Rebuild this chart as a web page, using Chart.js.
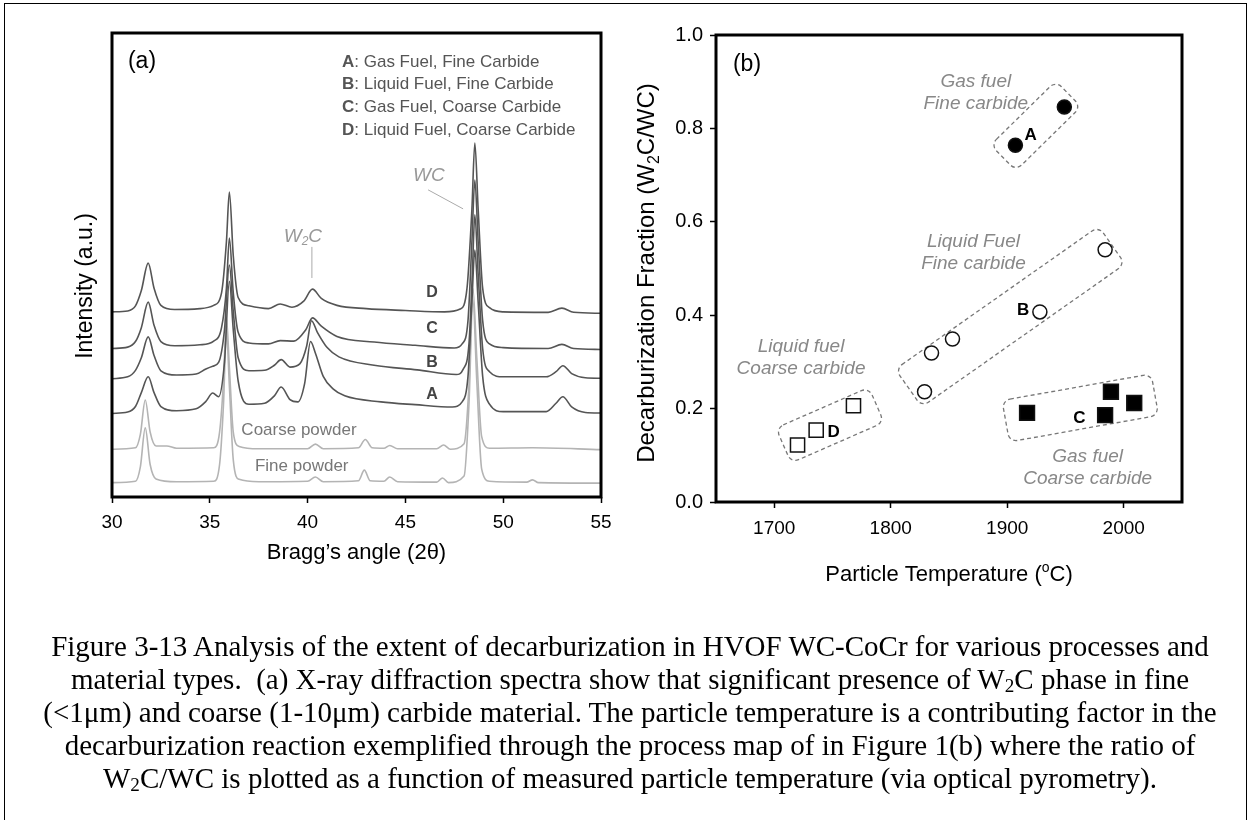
<!DOCTYPE html>
<html>
<head>
<meta charset="utf-8">
<script src="https://cdn.jsdelivr.net/npm/chart.js@4.4.1/dist/chart.umd.min.js"></script>
<style>
  html, body { margin: 0; padding: 0; background: #fff; }
  body { width: 1250px; height: 820px; position: relative; overflow: hidden; }
  #page { position: absolute; left: 4px; top: 3px; width: 1241px; height: 840px; border: 1px solid #000; }
  #wrapA { position: absolute; left: 0; top: 0; width: 640px; height: 620px; }
  #wrapB { position: absolute; left: 600px; top: 0; width: 650px; height: 640px; }
  #caption { position: absolute; left: 0; top: 630px; width: 1260px; text-align: center;
    font-family: "Liberation Serif", "Times New Roman", serif; font-size: 29px; line-height: 33px; color: #000; }
  #caption sub { font-size: 0.66em; vertical-align: -0.18em; line-height: 0; }
</style>
</head>
<body>
<div id="page"></div>
<div id="wrapA"><canvas id="xrd" width="640" height="620"></canvas></div>
<div id="wrapB"><canvas id="map" width="650" height="640"></canvas></div>
<div id="caption">
  <div>Figure 3-13 Analysis of the extent of decarburization in HVOF WC-CoCr for various processes and</div>
  <div>material types.&nbsp; (a) X-ray diffraction spectra show that significant presence of W<sub>2</sub>C phase in fine</div>
  <div>(&lt;1μm) and coarse (1-10μm) carbide material. The particle temperature is a contributing factor in the</div>
  <div>decarburization reaction exemplified through the process map of in Figure 1(b) where the ratio of</div>
  <div>W<sub>2</sub>C/WC is plotted as a function of measured particle temperature (via optical pyrometry).</div>
</div>
<script>
// ---- panel (a): XRD spectra, [2theta, intensity a.u. incl. stacking offset]
const xTicksA = [30, 35, 40, 45, 50, 55];

const traceD = [[30,39.9],[30.8,40.1],[31.2,41.2],[31.5,44.5],[31.85,50.4],[32.15,45],[32.5,41.3],[33.2,40.4],[34.5,40.6],[35.2,41.3],[35.6,44],[35.85,55],[36.0,65.7],[36.2,52],[36.45,43],[37.0,41.2],[38.0,40.6],[38.6,41.6],[39.2,40.9],[39.8,42.2],[40.25,44.8],[40.7,42.8],[41.5,41.3],[43.0,40.6],[45.0,40.2],[47.0,39.9],[47.8,40.5],[48.15,45],[48.4,62],[48.55,76.3],[48.72,62],[48.95,45],[49.3,40.8],[50.0,39.9],[52.3,39.8],[53.0,40.7],[53.6,39.8],[55,39.6]];
const traceC = [[30,32.0],[30.8,32.3],[31.2,33.5],[31.5,36.5],[31.85,42.0],[32.15,37],[32.5,33.5],[33.2,32.6],[34.5,32.8],[35.2,33.6],[35.6,36.5],[35.85,45],[36.0,55.8],[36.2,44],[36.45,35.5],[37.0,33.2],[38.0,33.0],[38.6,33.7],[39.3,33.6],[39.9,36],[40.25,38.6],[40.7,36.8],[41.5,34.6],[43.4,33.4],[45.5,32.7],[47.5,32.1],[47.9,33],[48.2,38],[48.4,55],[48.55,68.3],[48.72,55],[48.95,38],[49.3,33],[50.0,32.2],[52.3,32.0],[53.0,32.9],[53.6,32.0],[55,31.8]];
const traceB = [[30,25.5],[30.8,25.9],[31.2,27.3],[31.5,30],[31.85,34.5],[32.15,30.5],[32.5,27.2],[33.3,26.3],[34.3,26.5],[34.8,27.6],[35.15,28.2],[35.45,29],[35.75,36],[36.0,50.0],[36.2,40],[36.45,30],[37.0,27.2],[37.8,27.3],[38.3,28.4],[38.65,29.6],[39.1,28.0],[39.6,28.7],[39.95,32.5],[40.2,38.0],[40.5,35.5],[41.0,32.2],[41.6,30.2],[43.4,28.4],[45.6,27.4],[47.6,26.4],[47.95,27.5],[48.25,33],[48.42,48],[48.55,60.8],[48.72,48],[48.95,32],[49.3,27],[50.0,25.9],[52.2,25.9],[52.7,27],[53.05,28.3],[53.5,26.6],[54.2,25.7],[55,25.6]];
const traceA = [[30,18.0],[30.8,18.3],[31.2,19.5],[31.5,22.5],[31.85,25.9],[32.15,22.5],[32.5,19.5],[33.3,18.6],[34.3,19.0],[34.8,20.6],[35.15,22.4],[35.45,21.6],[35.75,29],[36.0,46.5],[36.2,36],[36.45,25],[37.0,20],[37.8,20.2],[38.3,21.8],[38.65,23.7],[39.1,21.0],[39.5,20.5],[39.85,24.5],[40.15,33.5],[40.4,31],[40.8,26],[41.3,23.3],[41.9,21.8],[43.75,20.5],[45.5,19.9],[47.4,19.4],[47.9,20.5],[48.2,26],[48.4,42],[48.55,53.2],[48.72,42],[48.95,26],[49.3,20],[50,18.4],[52.2,18.4],[52.7,20.2],[53.05,21.6],[53.5,19.4],[54.2,18.2],[55,18.1]];
const coarsePowder = [[30,10.3],[31.2,10.6],[31.45,13.5],[31.7,20.9],[31.95,14],[32.25,11],[32.8,11.0],[33.3,10.5],[35.2,10.6],[35.5,14],[35.7,25],[35.85,38.6],[36.0,28],[36.2,14],[36.5,10.9],[37.5,10.4],[40.0,10.4],[40.4,11.4],[40.8,10.4],[42.6,10.6],[42.95,12.4],[43.3,10.6],[43.9,10.5],[44.2,11.1],[44.6,10.4],[46.6,10.4],[46.95,11.2],[47.3,10.3],[48.0,11.5],[48.25,24],[48.45,45],[48.65,30],[48.9,13],[49.3,10.5],[51.5,10.6],[55,10.2]];
const finePowder = [[30,3.1],[31.2,3.4],[31.45,6.5],[31.7,14.9],[31.95,7],[32.25,3.9],[33.3,3.3],[35.2,3.4],[35.5,7],[35.7,20],[35.85,36.0],[36.0,24],[36.2,8],[36.5,3.8],[37.5,3.3],[40.0,3.4],[40.4,4.3],[40.8,3.3],[42.6,3.5],[42.9,5.8],[43.2,3.5],[43.9,3.4],[44.2,4.3],[44.6,3.3],[46.6,3.2],[46.9,4.1],[47.2,3.1],[48.0,4.5],[48.25,20],[48.45,42.5],[48.65,25],[48.9,6],[49.3,3.4],[51.2,3.2],[51.5,3.7],[51.8,3.1],[55,3.0]];

const legendKeys = ['A', 'B', 'C', 'D'];
const legendNames = [': Gas Fuel, Fine Carbide', ': Liquid Fuel, Fine Carbide', ': Gas Fuel, Coarse Carbide', ': Liquid Fuel, Coarse Carbide'];
// curve tags, anchored in data units
const curveTags = [['D', 46.36, 44.0], ['C', 46.36, 36.4], ['B', 46.36, 28.9], ['A', 46.36, 22.0]];
const powderTags = [['Coarse powder', 39.56, 14.4], ['Fine powder', 39.7, 6.7]];

// ---- panel (b): decarburization fraction vs particle temperature
const xTicksB = [1700, 1800, 1900, 2000];
const yTicksB = [0, 0.2, 0.4, 0.6, 0.8, 1.0];
const gasFine = [[1907, 0.764], [1949, 0.846]];
const liquidFine = [[1829, 0.236], [1835, 0.319], [1853, 0.349], [1928, 0.407], [1984, 0.540]];
const gasCoarse = [[1917, 0.191], [1984, 0.186], [1989, 0.236], [2009, 0.212]];
const liquidCoarse = [[1720, 0.122], [1736, 0.154], [1768, 0.206]];

const pointTags = [['A', 1920, 0.786], ['B', 1913.6, 0.411], ['C', 1962, 0.18], ['D', 1751, 0.15]];
// group outlines: two ends in data units
const groupBoxes = [
  [[1896.6, 0.737], [1952.5, 0.874]],
  [[1815.3, 0.244], [1989.8, 0.550]],
  [[1898.7, 0.173], [2026.7, 0.230]],
  [[1708, 0.121], [1787.7, 0.208]]
];
const groupHalf = [18, 23, 21, 19];
const groupNames = [
  [['Gas fuel', 'Fine carbide'], 1873, 0.899],
  [['Liquid Fuel', 'Fine carbide'], 1871, 0.557],
  [['Liquid fuel', 'Coarse carbide'], 1723, 0.332],
  [['Gas fuel', 'Coarse carbide'], 1969, 0.096]
];

const SANS = '"Liberation Sans", Arial, sans-serif';

// draws text with sub (1) / sup (2) pieces, centred on x,y
function richText(ctx, parts, x, y, size, weight, style, rotate) {
  ctx.save();
  ctx.translate(x, y);
  if (rotate) ctx.rotate(rotate);
  const fontOf = (mode) => `${style || ''} ${weight || ''} ${mode ? Math.round(size * 0.65) : size}px ${SANS}`;
  let total = 0;
  parts.forEach(([t, m]) => { ctx.font = fontOf(m); total += ctx.measureText(t).width; });
  let cx = -total / 2;
  ctx.textBaseline = 'middle';
  ctx.textAlign = 'left';
  parts.forEach(([t, m]) => {
    ctx.font = fontOf(m);
    const dy = m === 1 ? size * 0.3 : (m === 2 ? -size * 0.3 : 0);
    ctx.fillText(t, cx, dy);
    cx += ctx.measureText(t).width;
  });
  ctx.restore();
}

const traceStyle = (data, color) => ({
  data, borderColor: color, borderWidth: 1.6, pointRadius: 0,
  cubicInterpolationMode: 'monotone', fill: false
});

const xrdDecor = {
  id: 'xrdDecor',
  afterDraw(chart) {
    const { ctx, chartArea: a, scales: { x, y } } = chart;
    ctx.save();
    ctx.strokeStyle = '#000';
    ctx.lineWidth = 3;
    ctx.strokeRect(a.left, a.top, a.right - a.left, a.bottom - a.top);

    ctx.fillStyle = '#000';
    richText(ctx, [['(a)', 0]], a.left + 30, a.top + 29, 23);

    // legend block
    ctx.textBaseline = 'middle';
    legendKeys.forEach((k, i) => {
      const ly = a.top + 29 + i * 22.7;
      ctx.font = `bold 17px ${SANS}`;
      ctx.fillStyle = '#555';
      ctx.fillText(k, a.left + 230, ly);
      const w = ctx.measureText(k).width;
      ctx.font = `17px ${SANS}`;
      ctx.fillText(legendNames[i], a.left + 230 + w, ly);
    });

    // phase markers
    ctx.fillStyle = '#999';
    ctx.strokeStyle = '#aaa';
    ctx.lineWidth = 1;
    richText(ctx, [['W', 0], ['2', 1], ['C', 0]], x.getPixelForValue(39.76), y.getPixelForValue(56.2), 19, '', 'italic');
    ctx.beginPath();
    ctx.moveTo(x.getPixelForValue(40.22), y.getPixelForValue(53.9));
    ctx.lineTo(x.getPixelForValue(40.22), y.getPixelForValue(47.2));
    ctx.stroke();
    richText(ctx, [['WC', 0]], x.getPixelForValue(46.2), y.getPixelForValue(69.2), 19, '', 'italic');
    ctx.beginPath();
    ctx.moveTo(x.getPixelForValue(46.16), y.getPixelForValue(66.2));
    ctx.lineTo(x.getPixelForValue(47.95), y.getPixelForValue(62.1));
    ctx.stroke();

    ctx.fillStyle = '#444';
    curveTags.forEach(([t, vx, vy]) => richText(ctx, [[t, 0]], x.getPixelForValue(vx), y.getPixelForValue(vy), 16, 'bold'));
    ctx.fillStyle = '#777';
    powderTags.forEach(([t, vx, vy]) => richText(ctx, [[t, 0]], x.getPixelForValue(vx), y.getPixelForValue(vy), 17));

    // axis titles
    ctx.fillStyle = '#000';
    richText(ctx, [['Bragg\u2019s angle (2\u03b8)', 0]], (a.left + a.right) / 2, 553, 22);
    richText(ctx, [['Intensity (a.u.)', 0]], 86, 286, 23, '', '', -Math.PI / 2);
    ctx.restore();
  }
};

new Chart(document.getElementById('xrd'), {
  type: 'line',
  data: {
    datasets: [
      traceStyle(traceD, '#555'),
      traceStyle(traceC, '#555'),
      traceStyle(traceB, '#555'),
      traceStyle(traceA, '#555'),
      traceStyle(coarsePowder, '#b4b4b4'),
      traceStyle(finePowder, '#b4b4b4')
    ]
  },
  options: {
    responsive: false,
    animation: false,
    devicePixelRatio: 1,
    layout: { padding: { left: 112, top: 33, right: 39, bottom: 63 } },
    plugins: { legend: { display: false }, tooltip: { enabled: false } },
    scales: {
      x: {
        type: 'linear', min: 30, max: 55,
        afterBuildTicks: (s) => { s.ticks = xTicksA.map(v => ({ value: v })); },
        afterFit: (s) => { s.height = 60; },
        border: { display: false },
        grid: { drawOnChartArea: false, drawTicks: true, tickLength: 6, tickColor: '#000', tickWidth: 1.5 },
        ticks: { color: '#000', font: { size: 19, family: SANS }, padding: 8, maxRotation: 0, callback: (v) => String(v) }
      },
      y: { display: false, min: 0, max: 100 }
    }
  },
  plugins: [xrdDecor]
});

// ---- panel (b)
const mapDecor = {
  id: 'mapDecor',
  beforeDatasetsDraw(chart) {
    const { ctx, scales: { x, y } } = chart;
    ctx.save();
    ctx.strokeStyle = '#777';
    ctx.lineWidth = 1.3;
    ctx.setLineDash([4, 3]);
    groupBoxes.forEach(([p, q], i) => {
      const x1 = x.getPixelForValue(p[0]), y1 = y.getPixelForValue(p[1]);
      const x2 = x.getPixelForValue(q[0]), y2 = y.getPixelForValue(q[1]);
      const len = Math.hypot(x2 - x1, y2 - y1);
      const h = groupHalf[i];
      ctx.save();
      ctx.translate(x1, y1);
      ctx.rotate(Math.atan2(y2 - y1, x2 - x1));
      ctx.beginPath();
      ctx.roundRect(0, -h, len, 2 * h, 8);
      ctx.stroke();
      ctx.restore();
    });
    ctx.restore();
  },
  afterDraw(chart) {
    const { ctx, chartArea: a, scales: { x, y } } = chart;
    ctx.save();
    ctx.strokeStyle = '#000';
    ctx.lineWidth = 3;
    ctx.strokeRect(a.left, a.top, a.right - a.left, a.bottom - a.top);

    ctx.fillStyle = '#000';
    richText(ctx, [['(b)', 0]], a.left + 31, a.top + 30, 23);
    pointTags.forEach(([t, vx, vy]) => richText(ctx, [[t, 0]], x.getPixelForValue(vx), y.getPixelForValue(vy), 17, 'bold'));

    ctx.fillStyle = '#888';
    groupNames.forEach(([lines, vx, vy]) => {
      lines.forEach((t, i) => richText(ctx, [[t, 0]], x.getPixelForValue(vx), y.getPixelForValue(vy) + i * 22, 19, '', 'italic'));
    });

    ctx.fillStyle = '#000';
    richText(ctx, [['Particle Temperature (', 0], ['o', 2], ['C)', 0]], (a.left + a.right) / 2, 575, 22);
    richText(ctx, [['Decarburization Fraction (W', 0], ['2', 1], ['C/WC)', 0]], 47, 273, 24, '', '', -Math.PI / 2);
    ctx.restore();
  }
};

const markStyle = (data, style, radius, filled) => ({
  data, showLine: false, pointStyle: style, pointRadius: radius,
  pointBackgroundColor: filled ? '#000' : '#fff', pointBorderColor: '#111', pointBorderWidth: 1.5
});

new Chart(document.getElementById('map'), {
  type: 'scatter',
  data: {
    datasets: [
      markStyle(gasFine, 'circle', 7, true),
      markStyle(liquidFine, 'circle', 7, false),
      markStyle(gasCoarse, 'rect', 10.5, true),
      markStyle(liquidCoarse, 'rect', 10, false)
    ]
  },
  options: {
    responsive: false,
    animation: false,
    devicePixelRatio: 1,
    layout: { padding: { left: 0, top: 35, right: 68, bottom: 78 } },
    plugins: { legend: { display: false }, tooltip: { enabled: false } },
    scales: {
      x: {
        type: 'linear', min: 1650, max: 2050,
        afterBuildTicks: (s) => { s.ticks = xTicksB.map(v => ({ value: v })); },
        afterFit: (s) => { s.height = 60; },
        border: { display: false },
        grid: { drawOnChartArea: false, drawTicks: true, tickLength: 6, tickColor: '#000', tickWidth: 1.5 },
        ticks: { color: '#000', font: { size: 19, family: SANS }, padding: 9, maxRotation: 0, callback: (v) => String(v) }
      },
      y: {
        type: 'linear', min: 0, max: 1,
        afterBuildTicks: (s) => { s.ticks = yTicksB.map(v => ({ value: v })); },
        afterFit: (s) => { s.width = 116; },
        border: { display: false },
        grid: { drawOnChartArea: false, drawTicks: true, tickLength: 6, tickColor: '#000', tickWidth: 1.5 },
        ticks: { color: '#000', font: { size: 20, family: SANS }, padding: 7, callback: (v) => v.toFixed(1) }
      }
    }
  },
  plugins: [mapDecor]
});
</script>
</body>
</html>
